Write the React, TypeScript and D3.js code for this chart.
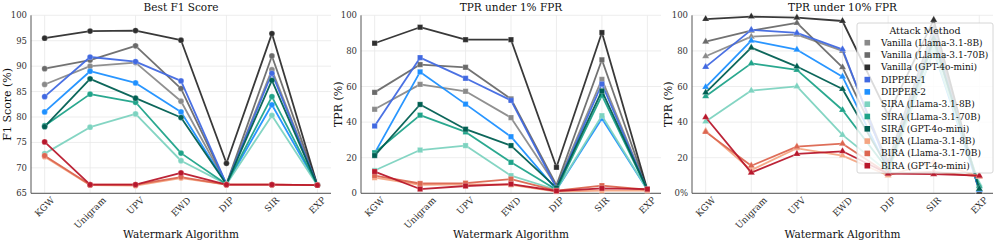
import React, { useEffect, useRef } from "react";
import * as d3 from "d3";

const categories = ["KGW", "Unigram", "UPV", "EWD", "DIP", "SIR", "EXP"];

const seriesNames = [
  "Vanilla (Llama-3.1-8B)",
  "Vanilla (Llama-3.1-70B)",
  "Vanilla (GPT-4o-mini)",
  "DIPPER-1",
  "DIPPER-2",
  "SIRA (Llama-3.1-8B)",
  "SIRA (Llama-3.1-70B)",
  "SIRA (GPT-4o-mini)",
  "BIRA (Llama-3.1-8B)",
  "BIRA (Llama-3.1-70B)",
  "BIRA (GPT-4o-mini)",
];

const seriesColors = [
  "#8a8a8a",
  "#6a6a6a",
  "#2e2e2e",
  "#4169e1",
  "#1e90ff",
  "#7dd3c0",
  "#1fa389",
  "#005f52",
  "#f4a582",
  "#dc6650",
  "#b8182c",
];

const f1Scores = [
  [86.4, 90.0, 90.7, 83.1, 66.8, 89.3, 66.6],
  [89.5, 91.2, 94.0, 85.6, 66.8, 92.0, 66.6],
  [95.5, 96.9, 97.0, 95.1, 70.9, 96.4, 66.6],
  [84.0, 91.8, 90.9, 87.1, 66.8, 88.6, 66.6],
  [81.0, 89.0, 86.7, 81.0, 66.8, 82.4, 66.6],
  [72.8, 78.0, 80.6, 71.4, 66.8, 80.3, 66.6],
  [78.3, 84.5, 82.9, 72.9, 66.8, 84.0, 66.6],
  [78.1, 87.5, 83.7, 79.9, 66.8, 87.2, 66.6],
  [72.2, 66.6, 66.5, 68.0, 66.7, 66.7, 66.6],
  [72.4, 66.7, 66.7, 68.2, 66.7, 66.7, 66.6],
  [75.1, 66.7, 66.7, 69.0, 66.7, 66.7, 66.6],
];

const tprAt1 = [
  [47.2, 61.2, 57.3, 42.5, 4.0, 64.0, 2.0],
  [56.7, 72.3, 70.8, 53.0, 4.5, 75.0, 2.0],
  [84.3, 93.3, 86.3, 86.3, 14.6, 90.3, 2.0],
  [37.8, 76.2, 64.6, 52.2, 3.0, 61.4, 2.0],
  [22.6, 68.2, 50.1, 31.8, 2.0, 42.0, 2.0],
  [12.8, 24.3, 26.8, 9.9, 2.0, 43.6, 2.0],
  [22.8, 43.9, 34.5, 17.4, 2.0, 55.0, 2.0],
  [21.2, 49.9, 36.0, 26.8, 3.0, 57.5, 2.0],
  [8.8, 4.8, 5.0, 4.8, 1.0, 1.5, 1.5],
  [9.9, 5.5, 5.7, 8.0, 1.5, 4.3, 2.0],
  [12.2, 2.4, 4.1, 5.2, 1.3, 2.8, 2.4],
];

const tprAt10 = [
  [77.0, 88.0, 89.1, 80.0, 16.0, 90.0, 1.0],
  [85.2, 91.4, 95.7, 70.8, 18.0, 93.0, 1.0],
  [97.9, 99.3, 98.7, 96.8, 44.0, 97.4, 0.8],
  [71.0, 91.8, 90.1, 80.9, 14.0, 88.0, 2.0],
  [59.7, 85.8, 80.7, 65.5, 13.0, 80.0, 2.0],
  [40.3, 57.7, 60.1, 32.8, 12.0, 80.0, 5.0],
  [54.5, 73.0, 69.3, 46.8, 13.0, 85.0, 4.0],
  [56.6, 81.8, 71.2, 58.6, 14.0, 87.0, 2.5],
  [35.1, 13.0, 25.3, 21.2, 10.0, 17.5, 9.5],
  [34.5, 15.5, 26.2, 27.9, 11.0, 12.0, 9.5],
  [42.7, 11.6, 22.1, 23.6, 11.0, 10.8, 9.9],
];

const f1Ticks = [65, 70, 75, 80, 85, 90, 95, 100];
const tprTicks = [0, 20, 40, 60, 80, 100];
const tpr10TickLabels = ["0%", "20", "40", "60", "80", "100"];

const FONT = "'DejaVu Serif', serif";

export default function App() {
  const ref = useRef<SVGSVGElement | null>(null);

  useEffect(() => {
    document.body.style.margin = "0";
    const svg = d3.select(ref.current);
    svg.selectAll("*").remove();

    const top = 15.3;
    const bottom = 193.3;

    const panels = [
      { x0: 31, x1: 331, data: f1Scores, domain: [65, 100], ticks: f1Ticks, tickLabels: f1Ticks.map(String), title: "Best F1 Score", ylabel: "F1 Score (%)", ylx: 7, marker: "circle" },
      { x0: 361, x1: 661, data: tprAt1, domain: [0, 100], ticks: tprTicks, tickLabels: tprTicks.map(String), title: "TPR under 1% FPR", ylabel: "TPR (%)", ylx: 338, marker: "square" },
      { x0: 692, x1: 993, data: tprAt10, domain: [0, 100], ticks: tprTicks, tickLabels: tpr10TickLabels, title: "TPR under 10% FPR", ylabel: "TPR (%)", ylx: 668, marker: "triangle" },
    ];

    panels.forEach((p) => {
      const g = svg.append("g");
      const x = d3.scalePoint<string>().domain(categories).range([p.x0, p.x1]).padding(0.3);
      const y = d3.scaleLinear().domain(p.domain).range([bottom, top]);

      // grid
      g.selectAll(".hg").data(p.ticks).enter().append("line")
        .attr("x1", p.x0).attr("x2", p.x1)
        .attr("y1", (d) => y(d)).attr("y2", (d) => y(d))
        .attr("stroke", "#e8e8e8").attr("stroke-width", 0.8);
      g.selectAll(".vg").data(categories).enter().append("line")
        .attr("x1", (d) => x(d)!).attr("x2", (d) => x(d)!)
        .attr("y1", top).attr("y2", bottom)
        .attr("stroke", "#e8e8e8").attr("stroke-width", 0.8);

      // spines
      g.append("line").attr("x1", p.x0).attr("x2", p.x0).attr("y1", top).attr("y2", bottom)
        .attr("stroke", "#555").attr("stroke-width", 1);
      g.append("line").attr("x1", p.x0).attr("x2", p.x1).attr("y1", bottom).attr("y2", bottom)
        .attr("stroke", "#555").attr("stroke-width", 1);

      // y tick labels
      g.selectAll(".yt").data(p.ticks).enter().append("text")
        .attr("x", p.x0 - 4).attr("y", (d) => y(d))
        .attr("text-anchor", "end").attr("dominant-baseline", "central")
        .attr("font-family", FONT).attr("font-size", 8.5).attr("fill", "#333")
        .text((d, i) => p.tickLabels[i]);

      // x tick labels rotated
      categories.forEach((c) => {
        const fs = 9;
        const t = g.append("text")
          .attr("text-anchor", "middle").attr("dominant-baseline", "central")
          .attr("font-family", FONT).attr("font-size", fs).attr("fill", "#333")
          .text(c);
        const w = (t.node() as SVGTextElement).getComputedTextLength();
        const h = fs * 0.75;
        const half = ((w + h) * Math.SQRT1_2) / 2;
        const cx = x(c)!;
        const cy = bottom + 3 + half;
        t.attr("transform", `translate(${cx},${cy}) rotate(-45)`);
      });

      // title
      g.append("text").attr("x", (p.x0 + p.x1) / 2).attr("y", 10.5)
        .attr("text-anchor", "middle").attr("font-family", FONT).attr("font-size", 10.5).attr("fill", "#111")
        .text(p.title);
      // x label
      g.append("text").attr("x", (p.x0 + p.x1) / 2).attr("y", 238)
        .attr("text-anchor", "middle").attr("font-family", FONT).attr("font-size", 10.5).attr("fill", "#111")
        .text("Watermark Algorithm");
      // y label
      g.append("text")
        .attr("transform", `translate(${p.ylx},${(top + bottom) / 2}) rotate(-90)`)
        .attr("text-anchor", "middle").attr("dominant-baseline", "central")
        .attr("font-family", FONT).attr("font-size", 11).attr("fill", "#111")
        .text(p.ylabel);

      const line = d3.line<number>().x((d, i) => x(categories[i])!).y((d) => y(d));
      const sym =
        p.marker === "circle" ? d3.symbol().type(d3.symbolCircle).size(26)
        : p.marker === "square" ? d3.symbol().type(d3.symbolSquare).size(28)
        : d3.symbol().type(d3.symbolTriangle).size(22);

      p.data.forEach((vals, si) => {
        const color = seriesColors[si];
        g.append("path").attr("d", line(vals)!).attr("fill", "none")
          .attr("stroke", color).attr("stroke-width", 1.8).attr("stroke-opacity", 0.95)
          .attr("stroke-linejoin", "round");
        g.selectAll(`.m${si}`).data(vals).enter().append("path")
          .attr("d", sym()!)
          .attr("transform", (d, i) => `translate(${x(categories[i])},${y(d)})`)
          .attr("fill", color).attr("stroke", "#fff").attr("stroke-width", 0.4).attr("stroke-opacity", 0.6);
      });
    });

    // legend
    const lg = svg.append("g");
    const lx0 = 857, lx1 = 993, ly0 = 23, ly1 = 173;
    lg.append("rect").attr("x", lx0).attr("y", ly0).attr("width", lx1 - lx0).attr("height", ly1 - ly0)
      .attr("rx", 2).attr("fill", "#fff").attr("fill-opacity", 0.82)
      .attr("stroke", "#cccccc").attr("stroke-width", 0.8);
    lg.append("text").attr("x", (lx0 + lx1) / 2).attr("y", 34)
      .attr("text-anchor", "middle").attr("font-family", FONT).attr("font-size", 9.5).attr("fill", "#111")
      .text("Attack Method");
    seriesNames.forEach((name, i) => {
      const cy = 42.7 + i * 12.3;
      lg.append("rect").attr("x", 864.5).attr("y", cy - 2.8).attr("width", 5.6).attr("height", 5.6)
        .attr("fill", seriesColors[i]);
      lg.append("text").attr("x", 881).attr("y", cy)
        .attr("dominant-baseline", "central").attr("font-family", FONT).attr("font-size", 9).attr("fill", "#111")
        .text(name);
    });
  }, []);

  return (
    <svg ref={ref} width={997} height={242} style={{ position: "absolute", left: 0, top: 0, background: "#fff" }} />
  );
}
